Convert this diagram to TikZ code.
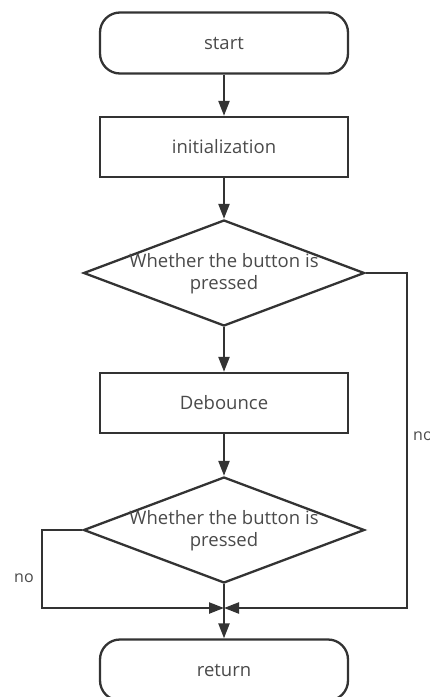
\documentclass[tikz,border=0pt]{standalone}
\usepackage{fontspec}
\setmainfont{Open Sans}
\usetikzlibrary{arrows.meta,shapes.geometric}
\definecolor{ln}{HTML}{333333}
\definecolor{tx}{HTML}{4a4a4a}
\tikzset{
  x=1pt,y=-1pt,
  txt/.style={text=tx,font=\fontsize{18.5}{22}\selectfont,align=center,inner sep=0pt},
  base/.style={txt,draw=ln,line width=2.3pt},
  term/.style={base,rounded corners=20pt,minimum width=248pt,minimum height=61pt},
  proc/.style={base,minimum width=248pt,minimum height=60pt},
  dec/.style={base,diamond,minimum width=281pt,minimum height=106pt,aspect=2.65},
  conn/.style={draw=ln,line width=2.3pt,-{Triangle[length=15pt,width=11pt]}},
  lbl/.style={text=tx,font=\fontsize{16}{18}\selectfont,inner sep=0pt}
}
\begin{document}
\begin{tikzpicture}
\useasboundingbox (0,0) rectangle (430,697);
\clip (0,0) rectangle (430,697);
\node[term] (start) at (224,43) {start};
\node[proc] (init) at (224,147) {initialization};
\node[dec] (d1) at (224,273) {};
\node[txt] (t1) at (224,274) {Whether the button is\\pressed};
\node[proc] (deb) at (224,403) {Debounce};
\node[dec] (d2) at (224,530) {};
\node[txt] (t2) at (224,531) {Whether the button is\\pressed};
\node[term] (ret) at (224,670) {return};
\coordinate (m) at (224,608);
\coordinate (r1) at (407,273);
\coordinate (r2) at (407,608);
\coordinate (l1) at (42,530);
\coordinate (l2) at (42,608);
\draw[conn] (start) -- (init);
\draw[conn] (init) -- (d1);
\draw[conn] (d1) -- (deb);
\draw[conn] (deb) -- (d2);
\draw[conn] (d2) -- (ret);
\draw[conn] (d1.east) -- (r1) -- (r2) -- (m);
\draw[conn] (d2.west) -- (l1) -- (l2) -- (m);
\node[lbl,anchor=west] (no1) at (413,436) {no};
\node[lbl,anchor=west] (no2) at (14,578) {no};
\end{tikzpicture}
\end{document}
